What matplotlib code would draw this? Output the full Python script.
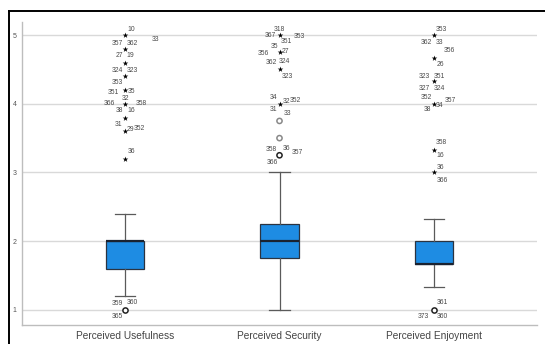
import numpy as np
import matplotlib
matplotlib.use('Agg')
import matplotlib.pyplot as plt
from matplotlib.lines import Line2D

plt.rcParams['font.family'] = ['Liberation Sans', 'DejaVu Sans']

categories = ['Perceived Usefulness', 'Perceived Security', 'Perceived Enjoyment']
q1 = [1.6, 1.75, 1.67]
median = [2.0, 2.0, 1.67]
q3 = [2.0, 2.25, 2.0]
whislo = [1.2, 1.0, 1.33]
whishi = [2.4, 3.0, 2.33]

# extreme outliers (stars) and outliers (circles)
extremes = [
    [5.0, 4.8, 4.6, 4.4, 4.2, 4.0, 3.8, 3.6, 3.2],
    [5.0, 4.75, 4.5, 4.0],
    [5.0, 4.67, 4.33, 4.0, 3.33, 3.0],
]
outliers = [
    [1.0],
    [3.75, 3.5, 3.25],
    [1.0],
]
# case numbers shown next to the points: (text, value it belongs to)
useful_ids = [('10', 5.0), ('33', 5.0), ('357', 5.0), ('362', 5.0),
              ('27', 4.8), ('19', 4.8), ('324', 4.6), ('323', 4.6),
              ('353', 4.4), ('351', 4.2), ('35', 4.2), ('32', 4.2),
              ('366', 4.0), ('358', 4.0), ('38', 4.0), ('16', 4.0),
              ('31', 3.8), ('29', 3.6), ('352', 3.6), ('36', 3.2),
              ('359', 1.0), ('360', 1.0), ('365', 1.0)]
security_ids = [('318', 5.0), ('367', 5.0), ('353', 5.0), ('351', 5.0),
                ('35', 4.75), ('356', 4.75), ('27', 4.75),
                ('362', 4.5), ('324', 4.5), ('323', 4.5),
                ('34', 4.0), ('32', 4.0), ('352', 4.0), ('31', 4.0), ('33', 4.0),
                ('358', 3.25), ('36', 3.25), ('357', 3.25), ('366', 3.25)]
enjoy_ids = [('353', 5.0), ('362', 5.0), ('33', 5.0),
             ('356', 4.67), ('26', 4.67),
             ('323', 4.33), ('351', 4.33), ('327', 4.33), ('324', 4.33),
             ('352', 4.0), ('357', 4.0), ('34', 4.0), ('38', 4.0),
             ('358', 3.33), ('16', 3.33), ('36', 3.0), ('366', 3.0),
             ('361', 1.0), ('373', 1.0), ('360', 1.0)]

# label offsets in pixels (layout only)
useful_off = [(6, 6), (30, -4), (-8, -8), (7, -8), (-6, -7), (5, -7), (-8, -8), (7, -8),
              (-8, -6), (-12, -2), (6, -1), (0, -8), (-16, 0), (16, 0), (-6, -7), (6, -7),
              (-7, -7), (5, 2), (14, 3), (6, 7), (-8, 6), (7, 7), (-8, -7)]
security_off = [(0, 6), (-9, 0), (20, -1), (7, -6), (-5, 6), (-16, -1), (6, 1),
                (-8, 7), (5, 8), (8, -7), (-6, 6), (7, 2), (16, 3), (-6, -6), (8, -10),
                (-8, 6), (7, 7), (18, 3), (-7, -7)]
enjoy_off = [(7, 6), (-8, -7), (5, -7), (15, 7), (6, -7), (-10, 5), (5, 5), (-10, -7), (5, -7),
             (-8, 6), (16, 3), (6, -2), (-7, -6), (7, 7), (6, -6), (6, 5), (8, -8),
             (8, 7), (-11, -7), (8, -7)]

fig = plt.figure(figsize=(5.45, 3.44), dpi=100)
ax = fig.add_axes([22 / 545, 1 - 325 / 344, 515 / 545, 303 / 344])

stats = []
for i in range(3):
    stats.append(dict(med=median[i], q1=q1[i], q3=q3[i], whislo=whislo[i],
                      whishi=whishi[i], fliers=[]))
pos = [1, 2, 3]
ax.bxp(stats, positions=pos, widths=0.25, patch_artist=True, showfliers=False,
       boxprops=dict(facecolor='#1e8ce3', edgecolor='#2b3340', linewidth=0.9),
       medianprops=dict(color='#1a2230', linewidth=1.6),
       whiskerprops=dict(color='#5a5a5a', linewidth=0.9),
       capprops=dict(color='#5a5a5a', linewidth=0.9),
       capwidths=0.13, zorder=3)

for i in range(3):
    ax.scatter([pos[i]] * len(extremes[i]), extremes[i], marker='*', s=18,
               color='black', linewidths=0, zorder=4)
    ec = ['#222222' if v in (1.0, 3.25) else '#888888' for v in outliers[i]]
    ax.scatter([pos[i]] * len(outliers[i]), outliers[i], marker='o', s=14,
               facecolors='white', edgecolors=ec, linewidths=1.1, zorder=4)

for i, (ids, offs) in enumerate([(useful_ids, useful_off), (security_ids, security_off),
                                 (enjoy_ids, enjoy_off)]):
    for (t, v), (dx, dy) in zip(ids, offs):
        ax.annotate(t, (pos[i], v), xytext=(dx, dy), textcoords='offset pixels',
                    ha='center', va='center', fontsize=4.9, color='#4a4a4a')

ax.set_xlim(1 - 0.667, 3 + 0.667)
ax.set_ylim(0.78, 5.19)
ax.set_yticks([1, 2, 3, 4, 5])
ax.set_xticks(pos)
ax.set_xticklabels(categories)
ax.tick_params(axis='y', length=0, pad=4, labelsize=5, labelcolor='#555555')
ax.tick_params(axis='x', length=0, pad=4, labelsize=7.3, labelcolor='#444444')
ax.yaxis.grid(True, color='#d9d9d9', linewidth=1.0)
ax.set_axisbelow(True)
for s in ['top', 'right']:
    ax.spines[s].set_visible(False)
for s in ['left', 'bottom']:
    ax.spines[s].set_color('#bdbdbd')
    ax.spines[s].set_linewidth(1.0)

# outer black frame
fig.add_artist(Line2D([9 / 545, 9 / 545], [0, 1 - 11 / 344], color='black', lw=1.4,
                      transform=fig.transFigure))
fig.add_artist(Line2D([9 / 545, 1], [1 - 11 / 344, 1 - 11 / 344], color='black', lw=1.4,
                      transform=fig.transFigure))

fig.savefig('out.png', dpi=100)
